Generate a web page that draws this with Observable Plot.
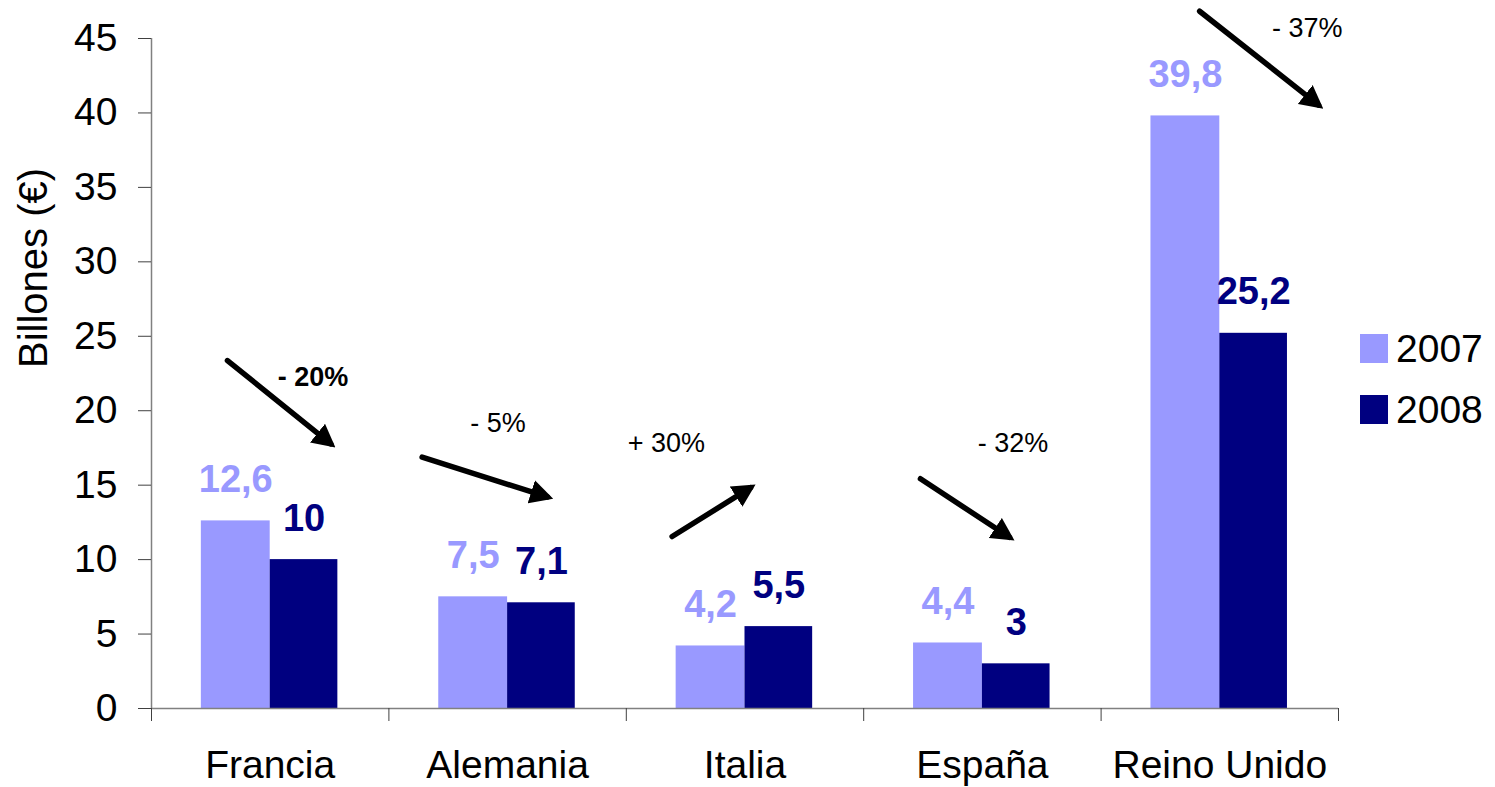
<!DOCTYPE html>
<html>
<head>
<meta charset="utf-8">
<script src="https://cdn.jsdelivr.net/npm/d3@7"></script>
<script src="https://cdn.jsdelivr.net/npm/@observablehq/plot@0.6"></script>
<style>
  html, body { margin: 0; padding: 0; background: #fff; }
  #wrap { position: relative; width: 1495px; height: 787px; font-family: "Liberation Sans", Arial, sans-serif; }
  #legend { position: absolute; left: 1360px; top: 318px; }
  .item { display: flex; align-items: center; height: 61px; }
  .sw { width: 28px; height: 29px; margin-right: 8px; }
  .lab { font-size: 39px; color: #000; line-height: 1; }
</style>
</head>
<body>
<div id="wrap"><div id="legend"></div></div>
<script>
// ---- data ----
const countries = ["Francia", "Alemania", "Italia", "España", "Reino Unido"];
const values2007 = [12.6, 7.5, 4.2, 4.4, 39.8];
const values2008 = [10, 7.1, 5.5, 3, 25.2];
const years = ["2007", "2008"];
const yearColors = ["#9999FF", "#000080"];
const yTicks = [0, 5, 10, 15, 20, 25, 30, 35, 40, 45];

// change arrows (x in country units from the left edge of the axis, y in billions)
const arrowX1 = [0.320, 1.140, 2.193, 3.239, 4.415];
const arrowY1 = [23.37, 16.88, 11.55, 15.43, 46.83];
const arrowX2 = [0.755, 1.668, 2.523, 3.614, 4.916];
const arrowY2 = [17.78, 14.21, 14.83, 11.50, 40.53];
const changeLabels = ["- 20%", "- 5%", "+ 30%", "- 32%", "- 37%"];
const changeX = [0.680, 1.460, 2.169, 3.629, 4.868];
const changeY = [22.23, 19.14, 17.82, 17.82, 45.70];
const changeBold = [true, false, false, false, false];

// ---- derived tables ----
const fmt = v => String(v).replace(".", ",");
const barStart = [0.21, 0.5];   // offset of each year's bar inside a country slot
const barWidth = [0.29, 0.285];
const bars = [];
countries.forEach((c, i) => {
  [values2007[i], values2008[i]].forEach((v, k) => {
    bars.push({i, year: years[k], value: v, label: fmt(v),
      x1: i + barStart[k], x2: i + barStart[k] + barWidth[k]});
  });
});
const arrows = arrowX1.map((x, i) => ({x1: x, y1: arrowY1[i], x2: arrowX2[i], y2: arrowY2[i]}));
const changes = changeLabels.map((t, i) => ({t, x: changeX[i], y: changeY[i], bold: changeBold[i]}));

function filledArrow(color) {
  const m = d3.create("svg:marker")
    .attr("viewBox", "-17 -12.5 23 25")
    .attr("markerUnits", "userSpaceOnUse")
    .attr("markerWidth", 23)
    .attr("markerHeight", 25)
    .attr("orient", "auto")
    .attr("fill", color)
    .attr("stroke", "none");
  m.append("path").attr("d", "M-17,-12L6,0L-17,12Z");
  return m.node();
}

const font = "'Liberation Sans', Arial, sans-serif";

const chart = Plot.plot({
  width: 1495,
  height: 787,
  marginLeft: 151,
  marginRight: 157,
  marginTop: 38,
  marginBottom: 79,
  style: {fontFamily: font, background: "white", color: "black", overflow: "visible"},
  x: {domain: [0, 5]},
  y: {domain: [0, 45]},
  color: {domain: years, range: yearColors},
  marks: [
    Plot.rectY(bars, {x1: "x1", x2: "x2", y: "value", fill: "year"}),
    Plot.ruleX([0], {stroke: "#808080", strokeWidth: 1.5}),
    Plot.ruleY([0], {stroke: "#808080", strokeWidth: 1.5}),
    Plot.axisY(yTicks, {tickSize: 13, tickPadding: 21, fontSize: 39, label: null, stroke: "#404040"}),
    Plot.axisX(d3.range(0, 6), {tickSize: 13, tickFormat: () => "", label: null, stroke: "#404040"}),
    Plot.axisX(countries.map((c, i) => i + 0.5), {tickSize: 0, tickPadding: 42, fontSize: 39, label: null,
      tickFormat: v => countries[Math.floor(v)]}),
    Plot.text(["Billones (€)"], {frameAnchor: "left", dx: -104.5, dy: -5.5, rotate: -90, lineAnchor: "bottom", fontSize: 40, fill: "black"}),
    Plot.text(bars, {x: d => (d.x1 + d.x2) / 2, y: "value", text: "label", dy: -41, fill: "year",
      fontSize: 38, fontWeight: "bold"}),
    Plot.link(arrows, {x1: "x1", y1: "y1", x2: "x2", y2: "y2", stroke: "black", strokeWidth: 5.5,
      strokeLinecap: "round", markerEnd: filledArrow}),
    Plot.text(changes.filter(d => d.bold), {x: "x", y: "y", text: "t", fontSize: 27, fontWeight: "bold", fill: "black"}),
    Plot.text(changes.filter(d => !d.bold), {x: "x", y: "y", text: "t", fontSize: 27, fill: "black"})
  ]
});
document.getElementById("wrap").prepend(chart);

const legend = d3.select("#legend");
years.forEach((y, k) => {
  const it = legend.append("div").attr("class", "item");
  it.append("div").attr("class", "sw").style("background", yearColors[k]);
  it.append("div").attr("class", "lab").text(y);
});
</script>
</body>
</html>
